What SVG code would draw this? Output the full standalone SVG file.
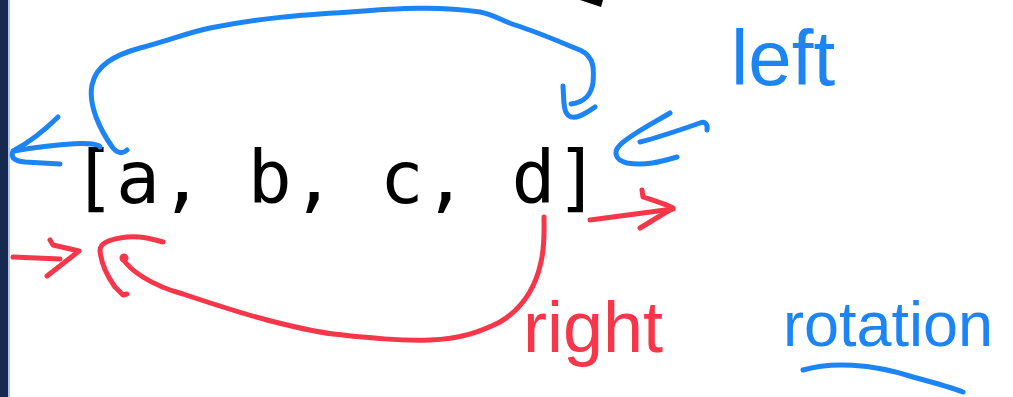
<svg xmlns="http://www.w3.org/2000/svg" width="1013" height="397" viewBox="0 0 1013 397">
<style>
.b{fill:none;stroke:#1d84f6;stroke-width:5;stroke-linecap:round;stroke-linejoin:round}
.r{fill:none;stroke:#f7364a;stroke-width:5;stroke-linecap:round;stroke-linejoin:round}
.hb{font-family:"Liberation Sans",Arial,sans-serif;fill:#1d84f6}
.hr{font-family:"Liberation Sans",Arial,sans-serif;fill:#f7364a}
</style>
<rect x="0" y="0" width="1013" height="397" fill="#ffffff"/>
<rect x="0" y="0" width="8" height="397" fill="#16294e"/>
<rect x="8" y="0" width="2" height="397" fill="#b0c4e4"/>
<polygon points="580,0 603,0 601,7 592,4" fill="#000"/>
<g id="array">
<text x="72" y="203" font-family="'DejaVu Sans Mono',monospace" font-size="73" fill="#000">[a, b, c, d]</text>
</g>
<g id="label-left"><text class="hb" x="731" y="85" font-size="78">left</text></g>
<g id="label-right"><text class="hr" x="523" y="352" font-size="72">right</text></g>
<g id="label-rotation"><text class="hb" x="783" y="346" font-size="63">rotation</text>
<path class="b" d="M803,370 C830,362 870,363 913,377 C935,383 950,387 963,392"/></g>
<g id="connectors">
<path class="b" d="M127,150 C122,155 116,152 113,148 C100,130 88,105 92,85 C96,65 115,55 140,48 C170,40 190,32 210,28 C260,18 300,15 350,12 C400,8 440,6 480,12 C495,15 500,20 515,25 C540,33 560,42 580,50 C595,57 594,70 593,83 C591,95 585,102 571,104"/>
<path class="b" d="M563,86 C564,100 563,112 569,116 C575,120 585,114 595,107"/>
<path class="b" d="M100,147 C99,141 60,143 14,151"/>
<path class="b" d="M58,117 C45,130 30,142 13,151 C10,158 15,161 25,162 L60,164"/>
<path class="b" d="M707,130 C708,124 705,121 700,123 C680,130 660,137 640,142"/>
<path class="b" d="M670,113 C650,125 630,135 620,145 C613,152 615,160 627,163 C645,166 660,162 677,157"/>
<path class="r" d="M13,257 L60,259"/>
<path class="r" d="M50,240 L53,245 L79,251 L47,276"/>
<path class="r" d="M163,242 C150,238 135,236 127,237 C110,239 100,243 100,250 C101,265 110,280 115,287 L123,295 L127,294"/>
<circle cx="124" cy="258" r="4.5" fill="#f7364a"/>
<path class="r" d="M123,259 C130,270 150,285 183,294 C210,303 240,313 267,320 C290,326 310,331 333,334 C370,338 400,341 430,340 C460,339 480,332 500,322 C520,310 535,290 541,262 C545,245 544,230 544,217"/>
<path class="r" d="M590,220 L673,209"/>
<path class="r" d="M642,190 L643,197 C655,201 665,204 673,208 L640,228"/>
</g>
</svg>
